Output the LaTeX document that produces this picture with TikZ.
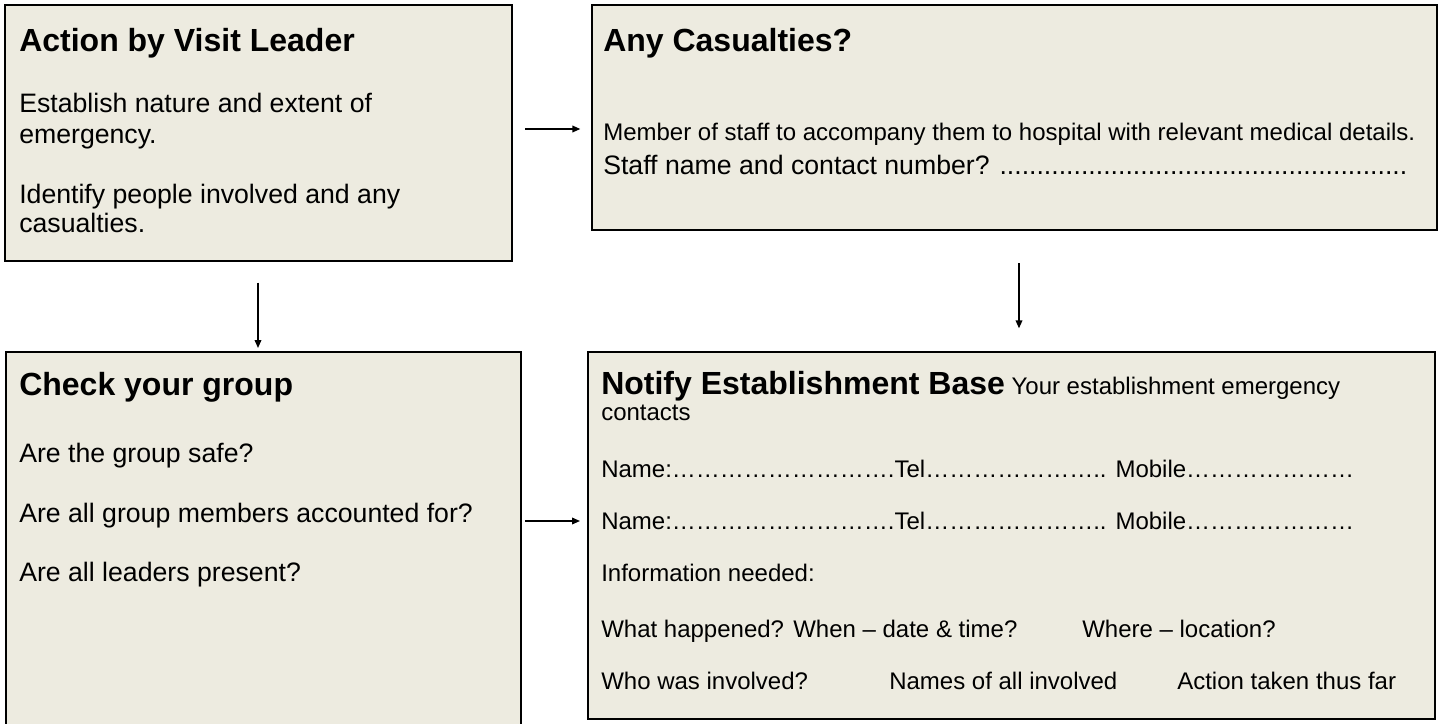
\documentclass[tikz,border=0pt]{standalone}
\usepackage{fontspec}
\setmainfont{Liberation Sans}
\usetikzlibrary{arrows.meta}
\usetikzlibrary{fit}

\definecolor{boxfill}{RGB}{237,235,224}
\newcommand\rep[2]{\foreach\k in {1,...,#1}{#2}}

\tikzset{
  box/.style={draw=black, line width=1.5pt, fill=boxfill, inner sep=0pt},
  ttl/.style={anchor=base west, inner sep=0pt, font=\fontsize{24}{28}\selectfont\bfseries},
  txtl/.style={anchor=base west, inner sep=0pt, font=\fontsize{20}{24}\selectfont},
  txts/.style={anchor=base west, inner sep=0pt, font=\fontsize{18}{22}\selectfont},
  flow/.style={-{Triangle[length=6pt,width=5pt]}, line width=1.1pt},
}

\begin{document}
\begin{tikzpicture}[x=0.75pt,y=-0.75pt]
    \useasboundingbox (0,0) rectangle (1446,724);
    \clip (0,0) rectangle (1446,724);
    \fill[white] (0,0) rectangle (1446,724);

    % the four boxes
    \node[box, fit={(5,5) (512,261)}] (actbox) {};
    \node[box, fit={(592,5) (1437,230)}] (casbox) {};
    \node[box, fit={(6,352) (521,745)}] (grpbox) {};
    \node[box, fit={(588,352) (1435,719)}] (notbox) {};

    % arrows
    \coordinate (ab) at (0,129);
    \coordinate (ac) at (258,0);
    \coordinate (bd) at (1019,0);
    \coordinate (cd) at (0,521);
    \draw[flow, shorten <=9pt, shorten >=8pt] (actbox.east |- ab) -- (casbox.west |- ab);
    \draw[flow, shorten <=15.5pt, shorten >=2.25pt] (actbox.south -| ac) -- (grpbox.north -| ac);
    \draw[flow, shorten <=24pt, shorten >=17pt] (casbox.south -| bd) -- (notbox.north -| bd);
    \draw[flow, shorten <=2.25pt, shorten >=5.25pt] (grpbox.east |- cd) -- (notbox.west |- cd);

    % Action by Visit Leader
    \node[ttl] (a0) at (19,52) {Action by Visit Leader};
    \node[txtl] (a1) at (19,113) {Establish nature and extent of};
    \node[txtl] (a2) at (19,143) {emergency.};
    \node[txtl] (a3) at (19,203) {Identify people involved and any};
    \node[txtl] (a4) at (19,232) {casualties.};

    % Any Casualties?
    \node[ttl] (b0) at (603,52) {Any Casualties?};
    \node[txts] (b1) at (603,141) {Member of staff to accompany them to hospital with relevant medical details.};
    \node[txtl] (b2) at (603,174) {Staff name and contact number? \rep{55}{.}};

    % Check your group
    \node[ttl] (c0) at (19,395) {Check your group};
    \node[txtl] (c1) at (19,462) {Are the group safe?};
    \node[txtl] (c2) at (19,522) {Are all group members accounted for?};
    \node[txtl] (c3) at (19,581) {Are all leaders present?};

    % Notify Establishment Base
    \node[txts] (d0) at (601,394) {{\fontsize{24}{28}\selectfont\bfseries Notify Establishment Base} Your establishment emergency};
    \node[txts] (d1) at (601,420) {contacts};
    \node[txts] (d2) at (601,477) {Name:\rep{9}{…}.Tel\rep{7}{…}.. Mobile\rep{7}{…}};
    \node[txts] (d3) at (601,529) {Name:\rep{9}{…}.Tel\rep{7}{…}.. Mobile\rep{7}{…}};
    \node[txts] (d4) at (601,581) {Information needed:};
    \node[txts] (d5) at (601,637) {What happened?};
    \node[txts] (d6) at (793,637) {When – date \& time?};
    \node[txts] (d7) at (1082,637) {Where – location?};
    \node[txts] (d8) at (601,689) {Who was involved?};
    \node[txts] (d9) at (889,689) {Names of all involved};
    \node[txts] (d10) at (1177,689) {Action taken thus far};
\end{tikzpicture}
\end{document}
